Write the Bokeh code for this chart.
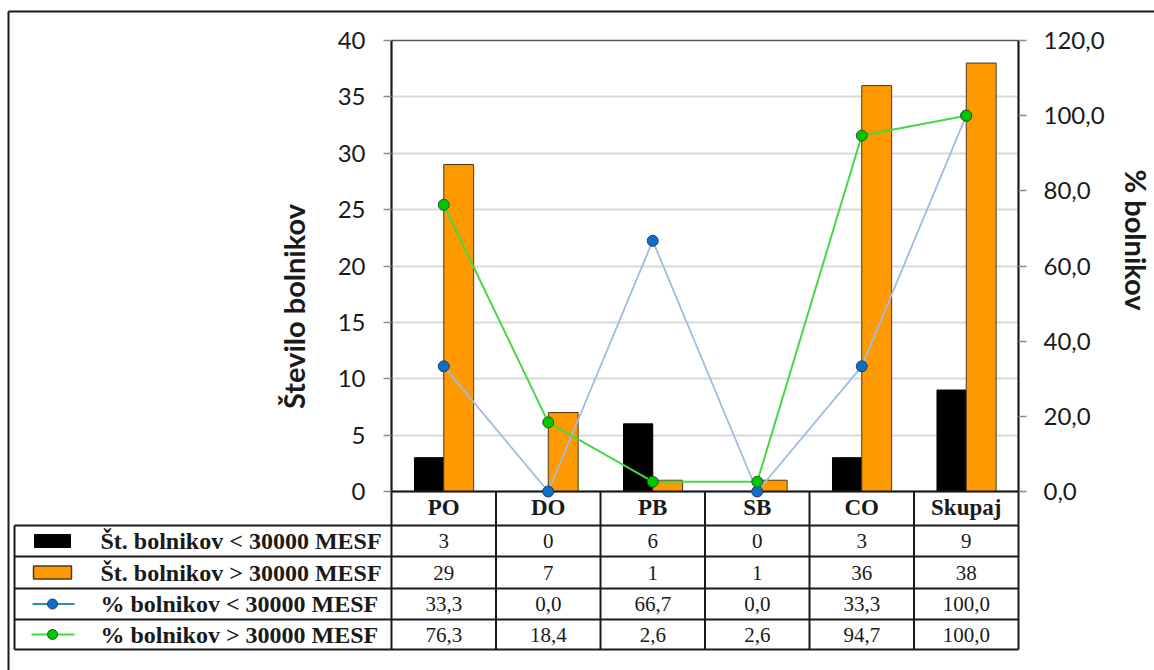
from math import pi

from bokeh.core.properties import value
from bokeh.embed import file_html
from bokeh.models import (ColumnDataSource, FactorRange, FixedTicker,
                          LinearAxis, Range1d)
from bokeh.plotting import figure
from bokeh.resources import INLINE
from bokeh.transform import dodge

# ---- data -------------------------------------------------------------
categories = ["PO", "DO", "PB", "SB", "CO", "Skupaj"]
count_below = [3, 0, 6, 0, 3, 9]
count_above = [29, 7, 1, 1, 36, 38]
pct_below = [33.3, 0.0, 66.7, 0.0, 33.3, 100.0]
pct_above = [76.3, 18.4, 2.6, 2.6, 94.7, 100.0]
series_names = [
    "Št. bolnikov < 30000 MESF",
    "Št. bolnikov > 30000 MESF",
    "% bolnikov < 30000 MESF",
    "% bolnikov > 30000 MESF",
]
count_ticks = [0, 5, 10, 15, 20, 25, 30, 35, 40]
pct_ticks = [0, 20, 40, 60, 80, 100, 120]
left_title = "Število bolnikov"
right_title = "%  bolnikov"

# ---- layout -----------------------------------------------------------
W, H = 1154, 670
FL, FR, FT, FB = 391, 1018, 40, 491          # plot frame in pixels
COUNT_MAX, PCT_MAX = 40, 120
N = len(categories)
UX = (FR - FL) / N                            # pixels per category
UY = (FB - FT) / COUNT_MAX                    # pixels per count unit


def dx(px):
    return (px - FL) / UX


def dy(py):
    return (FB - py) / UY


def fmt1(v):
    return f"{v:.1f}".replace(".", ",")


INK = "#1a1a1a"
ORANGE = "#FF9900"
BLUE_LINE, BLUE_DOT = "#9DBCE6", "#0F6FC6"
GREEN_LINE, GREEN_DOT = "#45D845", "#00C800"
SANS = "Lato"
SERIF = "Liberation Serif"

p = figure(
    width=W, height=H,
    x_range=FactorRange(*categories, range_padding=0),
    y_range=Range1d(0, COUNT_MAX),
    output_backend="svg", toolbar_location=None,
    min_border_left=FL, min_border_right=W - FR,
    min_border_top=FT, min_border_bottom=H - FB,
    background_fill_color="white", border_fill_color="white",
)
p.extra_y_ranges = {"pct": Range1d(0, PCT_MAX)}
p.outline_line_color = "#595959"
p.outline_line_width = 1.5

# grid
p.xgrid.visible = False
p.ygrid.ticker = FixedTicker(ticks=count_ticks)
p.ygrid.grid_line_color = "#D9D9D9"
p.ygrid.grid_line_width = 2

# left axis
ya = p.yaxis[0]
ya.ticker = FixedTicker(ticks=count_ticks)
ya.axis_line_color = INK
ya.axis_line_width = 2
ya.major_tick_out = 8
ya.major_tick_in = 0
ya.major_tick_line_color = "#8C8C8C"
ya.major_tick_line_width = 1.5
ya.minor_tick_line_color = None
ya.major_label_standoff = 18
ya.major_label_text_font = SANS
ya.major_label_text_font_size = "24px"
ya.major_label_text_color = INK

# right axis
ra = LinearAxis(y_range_name="pct", ticker=FixedTicker(ticks=pct_ticks))
ra.major_label_overrides = {t: fmt1(t) for t in pct_ticks}
ra.axis_line_color = INK
ra.axis_line_width = 2
ra.major_tick_out = 8
ra.major_tick_in = 0
ra.major_tick_line_color = "#8C8C8C"
ra.major_tick_line_width = 1.5
ra.minor_tick_line_color = None
ra.major_label_standoff = 17
ra.major_label_text_font = SANS
ra.major_label_text_font_size = "24px"
ra.major_label_text_color = INK
p.add_layout(ra, "right")

# category axis doubles as the table header row
xa = p.xaxis[0]
xa.axis_line_color = INK
xa.axis_line_width = 2
xa.major_tick_line_color = None
xa.major_tick_out = 0
xa.major_tick_in = 0
xa.major_label_standoff = 3
xa.major_label_text_font = SERIF
xa.major_label_text_font_style = "bold"
xa.major_label_text_font_size = "23px"
xa.major_label_text_color = INK

# ---- bars and lines -----------------------------------------------------
src = ColumnDataSource(dict(
    cat=categories, lo_n=count_below, hi_n=count_above,
    lo_p=pct_below, hi_p=pct_above,
))
p.vbar(x=dodge("cat", -0.14, range=p.x_range), top="lo_n", width=0.28,
       source=src, fill_color="black", line_color="black")
p.vbar(x=dodge("cat", 0.143, range=p.x_range), top="hi_n", width=0.286,
       source=src, fill_color=ORANGE, line_color="#4a3a20", line_width=1)

p.line(x="cat", y="lo_p", source=src, y_range_name="pct",
       line_color=BLUE_LINE, line_width=1.8)
p.line(x="cat", y="hi_p", source=src, y_range_name="pct",
       line_color=GREEN_LINE, line_width=2)
p.scatter(x="cat", y="lo_p", source=src, y_range_name="pct", size=11,
          fill_color=BLUE_DOT, line_color="#1F3F66", line_width=1,
          level="overlay")
p.scatter(x="cat", y="hi_p", source=src, y_range_name="pct", size=11,
          fill_color=GREEN_DOT, line_color="#1E5A1E", line_width=1,
          level="overlay")

# ---- axis titles --------------------------------------------------------
p.text(x=[dx(293)], y=[dy(306)], text=[left_title], angle=pi / 2,
       text_align="center", text_baseline="middle",
       text_font=value(SANS), text_font_style="bold",
       text_font_size="29px", text_color=INK, level="overlay")
p.text(x=[dx(1136)], y=[dy(243)], text=[right_title], angle=-pi / 2,
       text_align="center", text_baseline="middle",
       text_font=value(SANS), text_font_style="bold",
       text_font_size="29px", text_color=INK, level="overlay")

# ---- data table below the plot -----------------------------------------
row_lines = [525, 556, 588, 619, 649]
row_mid = [(a + b) / 2 for a, b in zip(row_lines[:-1], row_lines[1:])]
TL = 14

x0, x1, y0, y1 = [], [], [], []
for py in row_lines:
    x0.append(dx(TL)); x1.append(N); y0.append(dy(py)); y1.append(dy(py))
for i in range(N + 1):
    x0.append(i); x1.append(i); y0.append(0); y1.append(dy(row_lines[-1]))
x0.append(dx(TL)); x1.append(dx(TL)); y0.append(dy(row_lines[0])); y1.append(dy(row_lines[-1]))
# outer border of the figure
x0.append(dx(8)); x1.append(dx(8)); y0.append(dy(11)); y1.append(dy(H + 5))
x0.append(dx(8)); x1.append(dx(W + 5)); y0.append(dy(11)); y1.append(dy(11))
p.segment(x0=x0, y0=y0, x1=x1, y1=y1, line_color=INK, line_width=2,
          level="overlay")

rows = [
    [str(v) for v in count_below],
    [str(v) for v in count_above],
    [fmt1(v) for v in pct_below],
    [fmt1(v) for v in pct_above],
]
tx, ty, tt = [], [], []
for r, vals in enumerate(rows):
    for i, s in enumerate(vals):
        tx.append(i + 0.5); ty.append(dy(row_mid[r])); tt.append(s)
p.text(x=tx, y=ty, text=tt, text_align="center", text_baseline="middle",
       text_font=value(SERIF), text_font_size="21px", text_color=INK,
       level="overlay")
p.text(x=[dx(100)] * 4, y=[dy(m) for m in row_mid], text=series_names,
       text_align="left", text_baseline="middle", text_font=value(SERIF),
       text_font_style="bold", text_font_size="24px", text_color=INK,
       level="overlay")

# legend keys inside the table
key_x = dx(52)
p.rect(x=[key_x], y=[dy(row_mid[0])], width=36, height=13,
       width_units="screen", height_units="screen",
       fill_color="black", line_color="black", level="overlay")
p.rect(x=[key_x], y=[dy(row_mid[1])], width=38, height=13,
       width_units="screen", height_units="screen",
       fill_color=ORANGE, line_color="#4a3a20", line_width=1.5, level="overlay")
p.line(x=[dx(32), dx(74)], y=[dy(row_mid[2])] * 2, line_color="#2E8FA8",
       line_width=1.8, level="overlay")
p.line(x=[dx(31), dx(74)], y=[dy(row_mid[3])] * 2, line_color=GREEN_LINE,
       line_width=1.8, level="overlay")
key_dots = dict(x=[key_x, key_x], y=[dy(row_mid[2]), dy(row_mid[3])],
                width=10, height=10, width_units="screen",
                height_units="screen", fill_color=[BLUE_DOT, GREEN_DOT],
                line_color=["#1F3F66", "#1E5A1E"], line_width=1,
                level="overlay")
try:
    p.rect(border_radius=5, **key_dots)
except AttributeError:
    p.rect(**key_dots)

open("out.html", "w").write(file_html(p, INLINE))
